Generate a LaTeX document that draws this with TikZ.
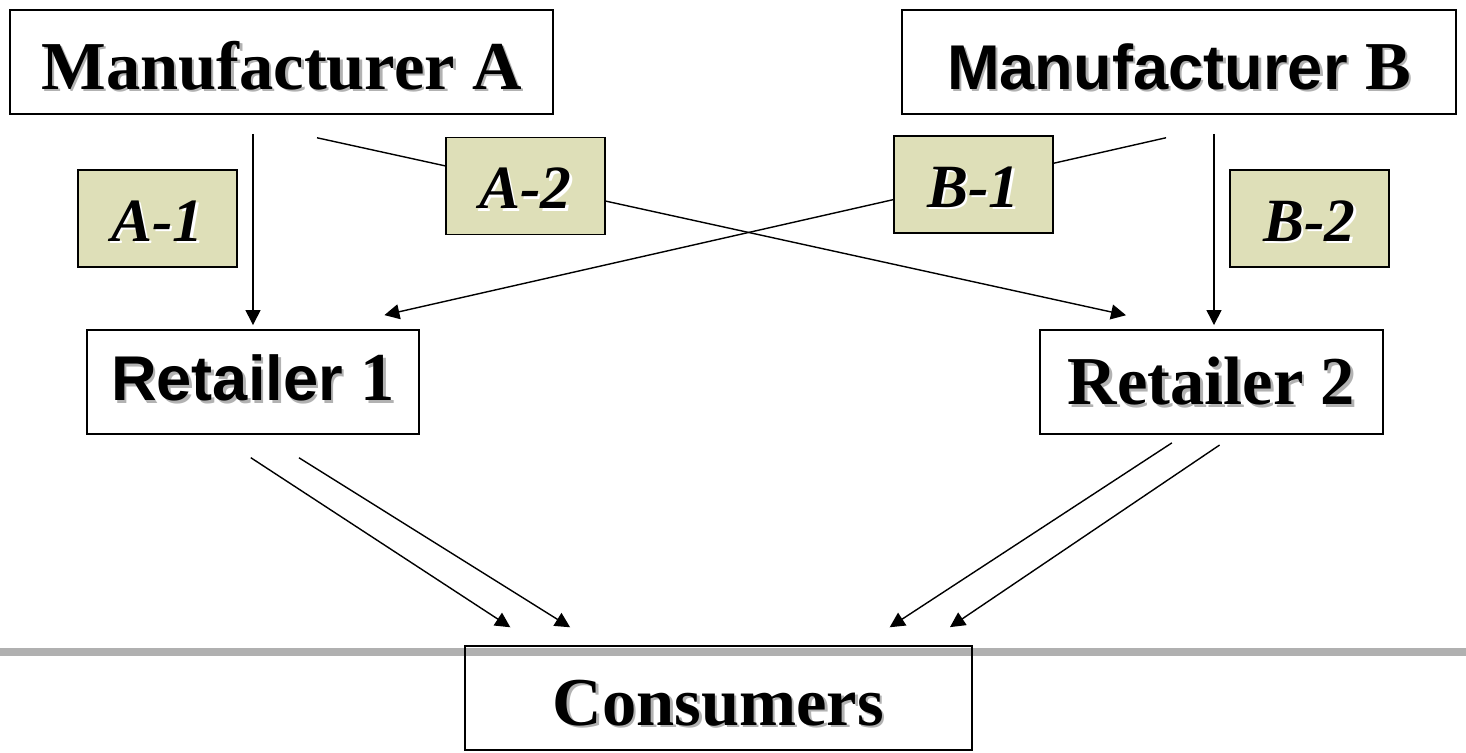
\documentclass[tikz,border=0pt]{standalone}
\usepackage{fontspec}
\setmainfont{Liberation Serif}
\setsansfont{Liberation Sans}
\usetikzlibrary{arrows.meta}

\definecolor{tagfill}{RGB}{222,223,184}
\definecolor{railgray}{RGB}{176,176,176}
\newcommand{\shadowtext}[2]{\leavevmode\rlap{\hspace{0.05cm}\raisebox{-0.05cm}{\color{#1}#2}}#2}
\newcommand{\serifbig}{\fontsize{39}{40}\selectfont\rmfamily\bfseries}
\newcommand{\sansbig}{\fontsize{36}{37}\selectfont\sffamily\bfseries}

\begin{document}
\begin{tikzpicture}[
    x=0.02cm, y=-0.02cm,
    firm/.style={
        rectangle,
        draw=black,
        line width=1.1pt,
        minimum height=2.08cm,
        text height=1.1cm,
        text depth=0pt
    },
    tag/.style={
        rectangle,
        draw=black,
        fill=tagfill,
        line width=1.1pt,
        minimum width=3.18cm,
        minimum height=1.94cm,
        text height=0.92cm,
        text depth=0pt,
        font=\fontsize{35}{36}\selectfont\bfseries\itshape
    },
    arrow/.style={
        -{Triangle[length=0.3cm,width=0.3cm]},
        line width=0.8pt
    }
]
\useasboundingbox (0,0) rectangle (1466,753);

% Market line
\draw[railgray, line width=5pt] (0,652) -- (1466,652);

% Manufacturers
\node[firm, minimum width=10.86cm, font=\serifbig] (mfrA) at (281.5,62) {\shadowtext{gray!60}{Manufacturer A}};
\node[firm, minimum width=11.08cm, font=\sansbig] (mfrB) at (1179,62) {\shadowtext{gray!60}{Manufacturer {\serifbig B}}};

% Retailers
\node[firm, minimum width=6.64cm, text height=0.76cm, font=\sansbig] (ret1) at (253,382) {\shadowtext{gray!60}{Retailer {\serifbig 1}}};
\node[firm, minimum width=6.86cm, text height=0.92cm, font=\serifbig] (ret2) at (1211.5,382) {\shadowtext{gray!60}{Retailer 2}};

% Consumers
\node[firm, minimum width=10.14cm, text height=1.08cm, font=\serifbig] (cons) at (718.5,698) {\shadowtext{gray!60}{Consumers}};

% Arrows
\draw[arrow, shorten <=0.38cm, shorten >=0.08cm] (mfrA.south -| ret1.north) -- (ret1.north);
\draw[arrow, shorten <=2.13cm, shorten >=1.29cm] ([xshift=-1.37cm]mfrA.south) -- ([xshift=-0.45cm]ret2.north);
\draw[arrow, shorten <=2.06cm, shorten >=1.26cm] ([xshift=1.75cm]mfrB.south) -- ([xshift=1.40cm]ret1.north);
\draw[arrow, shorten <=0.38cm, shorten >=0.08cm] ([xshift=0.05cm]mfrB.south -| ret2.north) -- ([xshift=0.05cm]ret2.north);

\draw[arrow, shorten <=0.83cm, shorten >=0.65cm] ([xshift=-0.74cm]ret1.south) -- ([xshift=-3.62cm]cons.north);
\draw[arrow, shorten <=0.86cm, shorten >=0.67cm] ([xshift=0.19cm]ret1.south) -- ([xshift=-2.40cm]cons.north);
\draw[arrow, shorten <=0.29cm, shorten >=0.65cm] ([xshift=-0.55cm]ret2.south) -- ([xshift=2.88cm]cons.north);
\draw[arrow, shorten <=0.36cm, shorten >=0.64cm] ([xshift=0.46cm]ret2.south) -- ([xshift=4.10cm]cons.north);

% Channel tags
\node[tag] (tagA1) at (157.5,218.5) {\shadowtext{white}{A-1}};
\node[tag] (tagA2) at (525.5,186) {\shadowtext{white}{A-2}};
\node[tag] (tagB1) at (973.5,184.5) {\shadowtext{white}{B-1}};
\node[tag] (tagB2) at (1309.5,218.5) {\shadowtext{white}{B-2}};

\end{tikzpicture}
\end{document}
